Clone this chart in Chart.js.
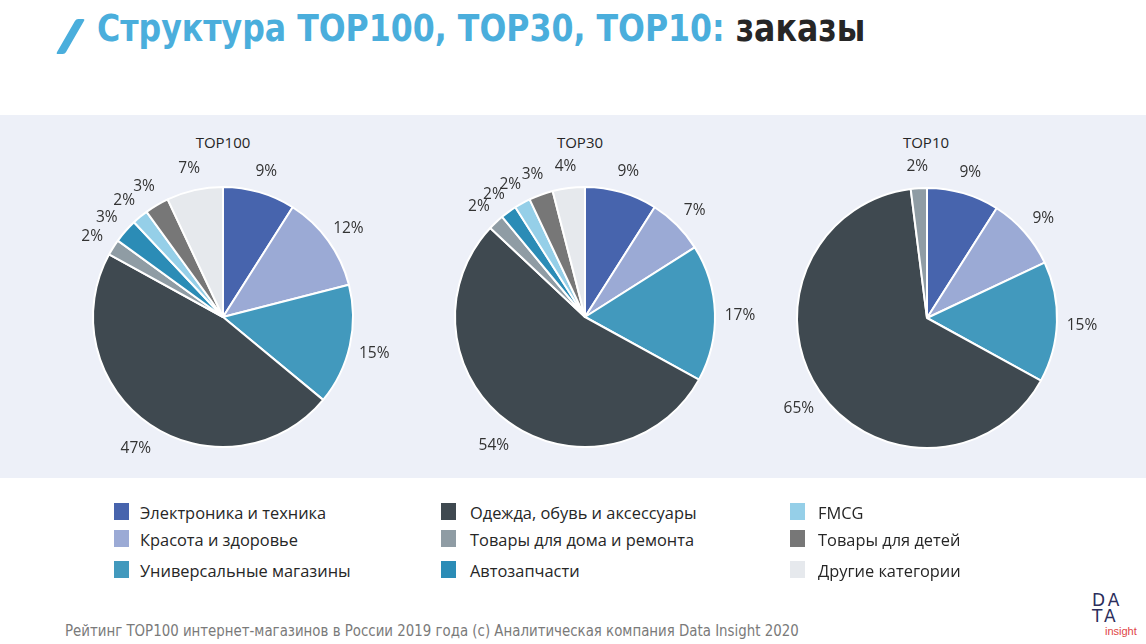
<!DOCTYPE html>
<html>
<head>
<meta charset="utf-8">
<script src="https://cdn.jsdelivr.net/npm/chart.js@4.4.1/dist/chart.umd.min.js"></script>
<style>
  body { margin: 0; width: 1146px; height: 644px; background: #fff; position: relative; overflow: hidden; font-family: "Open Sans", sans-serif; }
  .mark { position: absolute; left: 66px; top: 19px; width: 9px; height: 35px; background: #4AAEDC; transform: skewX(-30deg); border-radius: 2px; }
  h1 { position: absolute; left: 97px; top: 6px; margin: 0; font: bold 38px "Liberation Sans Narrow", "DejaVu Sans Condensed", sans-serif; color: #4AAEDC; white-space: nowrap; transform: scaleX(0.925); transform-origin: 0 0; }
  h1 span { color: #262626; }
  .panel { position: absolute; left: 0; top: 115px; width: 1146px; height: 363px; background: #EDF0F8; }
  .ptitle { position: absolute; top: 132px; width: 200px; margin-left: -100px; text-align: center; font-size: 15px; color: #262626; }
  canvas { position: absolute; }
  .legend { position: absolute; font-size: 16.4px; color: #262626; }
  .legend div { position: absolute; white-space: nowrap; }
  .legend i { position: absolute; width: 15px; height: 17px; left: 0; top: 2px; }
  .footer { position: absolute; left: 65px; top: 622px; font: 15px "Liberation Sans Narrow", "DejaVu Sans Condensed", sans-serif; color: #7a7a7a; white-space: nowrap; transform: scaleX(0.99); transform-origin: 0 0; }
  .logo { position: absolute; left: 1092px; top: 592px; font: 17px "DejaVu Sans", sans-serif; color: #2B2E5C; line-height: 16px; letter-spacing: 3px; }
  .logo b { font-weight: normal; display: block; }
  .logo em { position: absolute; left: 13px; top: 33px; font: 11px "Liberation Sans Narrow", sans-serif; color: #E04545; font-style: normal; letter-spacing: 0; }
</style>
</head>
<body>
<div class="mark"></div>
<h1>Структура TOP100, TOP30, TOP10: <span>заказы</span></h1>
<div class="panel"></div>
<div class="ptitle" style="left:223px">TOP100</div>
<div class="ptitle" style="left:580px">TOP30</div>
<div class="ptitle" style="left:926px">TOP10</div>
<canvas id="top100" width="360" height="360" style="left:43px;top:137px"></canvas>
<canvas id="top30" width="360" height="360" style="left:405px;top:137px"></canvas>
<canvas id="top10" width="360" height="360" style="left:747px;top:138px"></canvas>
<div class="legend" id="legend"></div>
<div class="footer">Рейтинг TOP100 интернет-магазинов в России 2019 года (с) Аналитическая компания Data Insight 2020</div>
<div class="logo"><b>DA</b><b>TA</b><em>insight</em></div>
<script>
const categories = [
  "Электроника и техника",
  "Красота и здоровье",
  "Универсальные магазины",
  "Одежда, обувь и аксессуары",
  "Товары для дома и ремонта",
  "Автозапчасти",
  "FMCG",
  "Товары для детей",
  "Другие категории"
];
const colorsList = ["#4764AD", "#9BAAD5", "#4299BD", "#3F4950", "#8F9CA4", "#2B8CB6", "#95CFE8", "#777777", "#E6E9ED"];

const top100 = [9, 12, 15, 47, 2, 3, 2, 3, 7];
const top30 = [9, 7, 17, 54, 2, 2, 2, 3, 4];
const top10 = [9, 9, 15, 65, 2, 0, 0, 0, 0];

// legend columns (column-major, 3 per column)
const legendX = [114, 441, 790];
const legendY = [501, 528, 559];
const legendTextDx = [26, 29, 28];
const legend = document.getElementById("legend");
categories.forEach((name, i) => {
  const col = Math.floor(i / 3), row = i % 3;
  const d = document.createElement("div");
  d.style.left = legendX[col] + "px";
  d.style.top = legendY[row] + "px";
  d.innerHTML = `<i style="background:${colorsList[i]}"></i><span style="margin-left:${legendTextDx[col]}px">${name}</span>`;
  legend.appendChild(d);
});

const pctLabels = {
  id: "pctLabels",
  afterDatasetsDraw(chart) {
    const ctx = chart.ctx;
    const meta = chart.getDatasetMeta(0);
    const values = chart.data.datasets[0].data;
    ctx.save();
    ctx.font = "15.5px 'Open Sans', sans-serif";
    ctx.fillStyle = "#333333";
    ctx.textAlign = "center";
    ctx.textBaseline = "middle";
    meta.data.forEach((arc, i) => {
      if (!values[i]) return;
      const mid = (arc.startAngle + arc.endAngle) / 2;
      const r = arc.outerRadius + 25;
      ctx.fillText(values[i] + "%", arc.x + Math.cos(mid) * r, arc.y + Math.sin(mid) * r + 3);
    });
    ctx.restore();
  }
};

function makePie(id, values) {
  new Chart(document.getElementById(id), {
    type: "pie",
    data: {
      labels: categories,
      datasets: [{
        data: values,
        backgroundColor: colorsList,
        borderColor: "#ffffff",
        borderWidth: 2
      }]
    },
    options: {
      responsive: false,
      animation: false,
      layout: { padding: 49 },
      plugins: { legend: { display: false }, tooltip: { enabled: false } }
    },
    plugins: [pctLabels]
  });
}

makePie("top100", top100);
makePie("top30", top30);
makePie("top10", top10);
</script>
</body>
</html>
